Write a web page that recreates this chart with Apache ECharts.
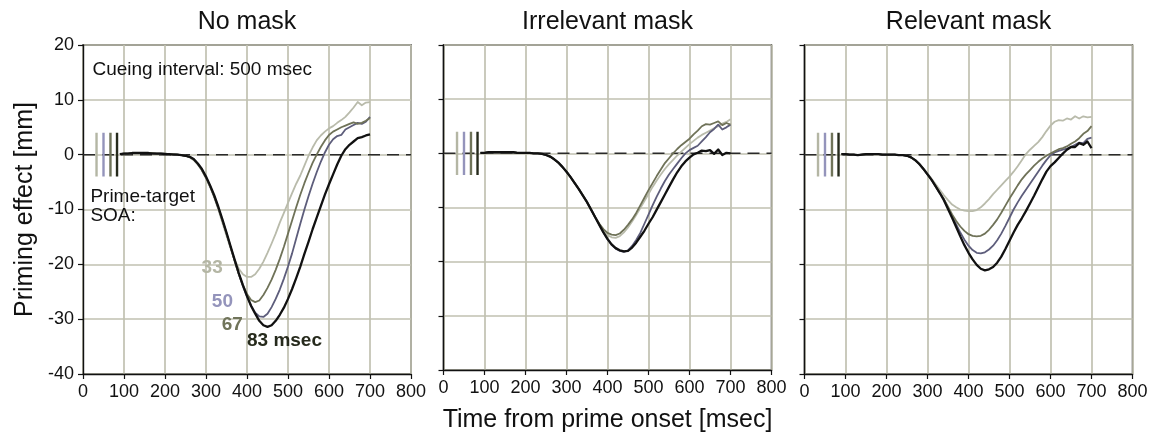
<!DOCTYPE html>
<html>
<head>
<meta charset="utf-8">
<script src="https://cdn.jsdelivr.net/npm/echarts@6/dist/echarts.min.js"></script>
<style>
  html, body { margin: 0; padding: 0; background: #ffffff; }
  #chart { width: 1153px; height: 438px; }
</style>
</head>
<body>
<div id="chart"></div>
<script>
// Time axis of every trace (msec from prime onset)
const timeMs = [
  90, 100, 110, 120, 130, 140, 150, 160, 170, 180, 190, 200, 210, 220, 230, 240, 250,
  260, 270, 280, 290, 300, 310, 320, 330, 340, 350, 360, 370, 380, 390, 400,
  410, 420, 430, 440, 450, 460, 470, 480, 490, 500, 510, 520, 530, 540, 550,
  560, 570, 580, 590, 600, 610, 620, 630, 640, 650, 660, 670, 680, 690, 700
];

// Prime-target SOAs (msec) and their labels
const soaMs = [33, 50, 67, 83];
const soaLabels = ['33', '50', '67', '83 msec'];
const panelTitles = ['No mask', 'Irrelevant mask', 'Relevant mask'];

// Priming effect (mm), No mask
const noMask33 = [
  0.1, 0.2, 0.2, 0.3, 0.3, 0.3, 0.3, 0.3, 0.3, 0.2, 0.2, 0.2, 0.1, 0.1, 0.0, -0.1, -0.2,
  -0.5, -1.0, -1.8, -2.9, -4.3, -5.9, -7.8, -10.0, -12.4, -14.8, -17.1, -19.2, -20.8, -21.8, -22.3,
  -22.3, -21.8, -20.8, -19.5, -17.9, -16.2, -14.4, -12.4, -10.6, -8.8, -7.0, -5.3, -3.8, -2.0, -0.2,
  1.3, 2.6, 3.5, 4.2, 4.8, 5.2, 5.8, 6.3, 6.9, 7.7, 8.6, 9.6, 9.0, 9.5, 9.6
];
const noMask50 = [
  0.1, 0.2, 0.2, 0.3, 0.3, 0.3, 0.3, 0.3, 0.3, 0.2, 0.2, 0.2, 0.1, 0.1, 0.0, -0.1, -0.2,
  -0.4, -0.9, -1.7, -2.8, -4.2, -5.8, -7.6, -9.7, -12.0, -14.4, -16.9, -19.4, -21.8, -24.0, -25.9,
  -27.5, -28.8, -29.5, -29.6, -29.0, -27.8, -26.3, -24.6, -22.6, -20.4, -18.0, -15.3, -12.6, -10.0, -7.6,
  -5.3, -3.2, -1.3, 0.4, 1.8, 2.8, 3.4, 3.6, 4.6, 5.0, 5.4, 5.8, 5.6, 6.0, 6.9
];
const noMask67 = [
  0.1, 0.2, 0.2, 0.3, 0.3, 0.3, 0.3, 0.3, 0.3, 0.2, 0.2, 0.2, 0.1, 0.1, 0.0, -0.1, -0.2,
  -0.4, -0.9, -1.7, -2.8, -4.2, -5.8, -7.6, -9.7, -12.0, -14.4, -16.9, -19.4, -21.8, -23.8, -25.4,
  -26.5, -26.9, -26.6, -25.6, -24.3, -22.8, -21.0, -19.0, -16.8, -14.4, -12.0, -9.6, -7.3, -5.2, -3.3,
  -1.5, 0.0, 1.4, 2.6, 3.6, 4.2, 4.6, 5.0, 5.3, 5.6, 5.9, 5.6, 5.8, 6.2, 6.7
];
const noMask83 = [
  0.1, 0.2, 0.2, 0.3, 0.3, 0.3, 0.3, 0.3, 0.2, 0.2, 0.2, 0.1, 0.1, 0.0, 0.0, -0.1, -0.2,
  -0.4, -0.8, -1.6, -2.6, -4.0, -5.6, -7.4, -9.5, -11.8, -14.2, -16.7, -19.2, -21.6, -23.8, -25.8,
  -27.6, -29.0, -30.3, -31.1, -31.4, -31.1, -30.3, -29.2, -27.9, -26.3, -24.5, -22.5, -20.4, -18.1, -15.9,
  -13.6, -11.5, -9.4, -7.3, -5.4, -3.6, -1.8, -0.2, 1.0, 1.8, 2.4, 3.0, 3.2, 3.5, 3.7
];

// Priming effect (mm), Irrelevant mask
const irrelevant33 = [
  0.1, 0.1, 0.2, 0.2, 0.2, 0.2, 0.2, 0.2, 0.2, 0.1, 0.1, 0.1, 0.1, 0.0, 0.0, -0.1, -0.3,
  -0.6, -1.1, -1.7, -2.5, -3.4, -4.4, -5.5, -6.6, -7.8, -9.0, -10.4, -11.8, -13.0, -14.3, -15.1,
  -15.5, -15.6, -15.3, -14.6, -13.7, -12.6, -11.4, -10.1, -8.8, -7.5, -6.2, -5.0, -3.9, -2.9, -2.0,
  -1.2, -0.4, 0.3, 1.0, 1.7, 2.3, 2.9, 3.4, 3.8, 4.2, 4.6, 5.0, 5.5, 5.8, 6.3
];
const irrelevant50 = [
  0.1, 0.1, 0.2, 0.2, 0.2, 0.2, 0.2, 0.2, 0.2, 0.1, 0.1, 0.1, 0.1, 0.0, 0.0, -0.1, -0.3,
  -0.6, -1.1, -1.7, -2.5, -3.4, -4.4, -5.5, -6.6, -7.8, -9.0, -10.4, -11.8, -13.2, -14.6, -15.9,
  -16.9, -17.6, -18.0, -18.2, -17.9, -17.1, -16.0, -14.7, -13.0, -11.3, -9.6, -8.0, -6.5, -5.1, -3.9,
  -2.9, -1.9, -0.9, 0.0, 0.6, 1.0, 1.4, 2.2, 3.0, 3.9, 4.5, 5.3, 4.4, 4.8, 5.3
];
const irrelevant67 = [
  0.1, 0.1, 0.2, 0.2, 0.2, 0.2, 0.2, 0.2, 0.2, 0.1, 0.1, 0.1, 0.1, 0.0, 0.0, -0.1, -0.3,
  -0.6, -1.1, -1.7, -2.5, -3.4, -4.4, -5.5, -6.6, -7.8, -9.0, -10.4, -11.8, -13.0, -14.0, -14.7,
  -15.0, -15.1, -14.8, -14.1, -13.2, -12.2, -11.0, -9.6, -8.2, -6.8, -5.5, -4.2, -3.0, -1.8, -0.9,
  0.0, 0.8, 1.5, 2.1, 2.7, 3.5, 4.2, 5.0, 5.4, 5.3, 5.6, 5.9, 5.2, 5.6, 5.3
];
const irrelevant83 = [
  0.1, 0.1, 0.2, 0.2, 0.2, 0.2, 0.2, 0.2, 0.2, 0.1, 0.1, 0.1, 0.1, 0.0, 0.0, -0.1, -0.3,
  -0.6, -1.1, -1.7, -2.5, -3.4, -4.4, -5.5, -6.6, -7.8, -9.0, -10.4, -11.8, -13.2, -14.6, -15.8,
  -16.8, -17.5, -17.9, -18.1, -18.0, -17.4, -16.5, -15.4, -14.3, -13.0, -11.8, -10.4, -9.0, -7.6, -6.2,
  -4.8, -3.5, -2.4, -1.5, -0.8, -0.2, 0.1, 0.5, 0.4, 0.6, -0.1, 0.7, -0.3, 0.1, 0.0
];

// Priming effect (mm), Relevant mask
const relevant33 = [
  0.1, 0.1, 0.0, 0.0, -0.1, 0.0, 0.1, 0.1, 0.1, 0.1, 0.0, 0.0, 0.0, 0.0, -0.1, -0.1, -0.2,
  -0.5, -1.0, -1.7, -2.5, -3.4, -4.4, -5.4, -6.4, -7.4, -8.3, -9.1, -9.6, -10.0, -10.2, -10.3,
  -10.3, -10.1, -9.6, -8.9, -8.1, -7.2, -6.4, -5.6, -4.8, -4.0, -3.1, -2.1, -1.0, 0.1, 0.9,
  1.6, 2.3, 3.2, 4.3, 5.3, 6.0, 6.3, 6.2, 6.6, 6.4, 7.0, 6.6, 7.0, 6.8, 6.9
];
const relevant50 = [
  0.1, 0.1, 0.0, 0.0, -0.1, 0.0, 0.1, 0.1, 0.1, 0.1, 0.0, 0.0, 0.0, 0.0, -0.1, -0.1, -0.2,
  -0.5, -1.0, -1.7, -2.6, -3.6, -4.6, -5.8, -7.0, -8.2, -9.7, -11.2, -12.7, -14.2, -15.5, -16.6,
  -17.4, -17.9, -18.0, -17.8, -17.3, -16.6, -15.6, -14.4, -13.0, -11.5, -10.0, -8.7, -7.5, -6.4, -5.3,
  -4.2, -3.1, -2.0, -1.0, -0.1, 0.4, 0.7, 0.9, 1.1, 1.4, 1.8, 2.2, 2.1, 2.9, 3.1
];
const relevant67 = [
  0.1, 0.1, 0.0, 0.0, -0.1, 0.0, 0.1, 0.1, 0.1, 0.1, 0.0, 0.0, 0.0, 0.0, -0.1, -0.1, -0.2,
  -0.5, -1.0, -1.7, -2.6, -3.6, -4.6, -5.8, -7.0, -8.1, -9.5, -10.9, -12.1, -13.1, -13.9, -14.5,
  -14.8, -14.9, -14.8, -14.4, -13.7, -12.8, -11.8, -10.6, -9.3, -8.0, -6.8, -5.6, -4.5, -3.6, -2.8,
  -2.0, -1.3, -0.7, -0.2, 0.2, 0.6, 1.0, 1.2, 1.5, 2.0, 2.4, 3.0, 3.8, 4.3, 5.2
];
const relevant83 = [
  0.1, 0.1, 0.0, 0.0, -0.1, 0.0, 0.1, 0.1, 0.1, 0.1, 0.0, 0.0, 0.0, 0.0, -0.1, -0.1, -0.2,
  -0.5, -1.0, -1.7, -2.6, -3.6, -4.6, -5.8, -7.0, -8.3, -9.9, -11.5, -13.2, -14.9, -16.5, -17.9,
  -19.1, -20.1, -20.8, -21.1, -20.9, -20.5, -19.7, -18.6, -17.2, -15.7, -14.2, -12.8, -11.6, -10.3, -8.9,
  -7.5, -6.0, -4.5, -3.1, -2.1, -1.4, -0.6, 0.2, 0.9, 1.4, 1.4, 2.1, 1.8, 2.4, 1.2
];

const panelData = [
  [noMask33, noMask50, noMask67, noMask83],
  [irrelevant33, irrelevant50, irrelevant67, irrelevant83],
  [relevant33, relevant50, relevant67, relevant83]
];

// Styling
const FONT = '"Liberation Sans", Arial, Helvetica, sans-serif';
const INK = '#111111';
const GRID_COLOR = '#c1c1b1';
const lineColors = ['#b9bbab', '#5d5d7b', '#6f7258', '#111111'];
const lineWidths = [1.8, 1.8, 1.8, 2.3];
const markColors = ['#b4b6a4', '#9494bb', '#70745a', '#262a1c'];

// Panel layout
const PANEL_TOP = 45;
const PANEL_W = 328;
const PANEL_H = 329;
const panelLeft = [83, 443.5, 804.5];

const grids = panelLeft.map(left => ({
  left: left, top: PANEL_TOP, width: PANEL_W, height: PANEL_H,
  show: true, borderColor: INK, borderWidth: 1.4, backgroundColor: 'transparent'
}));

const xAxes = panelLeft.map((_, p) => ({
  gridIndex: p, type: 'value', min: 0, max: 800, interval: 100,
  axisLine: { show: true, onZero: false, lineStyle: { color: INK, width: 1.4 } },
  axisTick: { show: true, length: 5, lineStyle: { color: INK, width: 1.2 } },
  axisLabel: { fontSize: 18, color: INK, margin: 9, fontFamily: FONT },
  splitLine: { show: true, lineStyle: { color: GRID_COLOR, width: 1.7 } },
  name: p === 1 ? 'Time from prime onset [msec]' : '',
  nameLocation: 'middle', nameGap: 38,
  nameTextStyle: { fontSize: 25, color: INK, fontFamily: FONT }
}));

const yAxes = panelLeft.map((_, p) => ({
  gridIndex: p, type: 'value', min: -40, max: 20, interval: 10,
  axisLine: { show: true, onZero: false, lineStyle: { color: INK, width: 1.4 } },
  axisTick: { show: true, length: 5, lineStyle: { color: INK, width: 1.2 } },
  axisLabel: { show: p === 0, fontSize: 18, color: INK, margin: 9, fontFamily: FONT },
  splitLine: { show: true, lineStyle: { color: GRID_COLOR, width: 1.7 } },
  name: p === 0 ? 'Priming effect [mm]' : '',
  nameLocation: 'middle', nameGap: 45,
  nameTextStyle: { fontSize: 25, color: INK, fontFamily: FONT }
}));

const series = [];
panelData.forEach((traces, p) => {
  // dashed zero reference
  series.push({
    type: 'line', xAxisIndex: p, yAxisIndex: p, silent: true, z: 2,
    data: [[0, 0], [800, 0]], symbol: 'none',
    lineStyle: { color: '#2a2a2a', width: 1.5, type: [12, 7] }
  });
  // SOA markers
  soaMs.forEach((soa, k) => {
    series.push({
      type: 'line', xAxisIndex: p, yAxisIndex: p, silent: true, z: 3,
      data: [[soa, -4], [soa, 4]], symbol: 'none',
      lineStyle: { color: markColors[k], width: 2.4, cap: 'butt' }
    });
  });
  // traces
  traces.forEach((vals, k) => {
    series.push({
      type: 'line', xAxisIndex: p, yAxisIndex: p, z: 4 + k,
      name: soaLabels[k], symbol: 'none', smooth: false,
      data: timeMs.map((t, i) => [t, vals[i]]),
      lineStyle: { color: lineColors[k], width: lineWidths[k], join: 'round' }
    });
  });
});

// Text notes in the first panel, placed in data coordinates
const noteStyle = { color: INK, fontSize: 19, fontFamily: FONT };
series.push({
  type: 'scatter', xAxisIndex: 0, yAxisIndex: 0, symbolSize: 0, silent: true, z: 10,
  itemStyle: { opacity: 1 },
  data: [
    { value: [23, 15.5], label: { formatter: 'Cueing interval: 500 msec' } },
    { value: [18, -9.4], label: { formatter: 'Prime-target\nSOA:', lineHeight: 19 } }
  ],
  label: Object.assign({ show: true, position: 'right', distance: 0 }, noteStyle)
});

const soaLabelPos = [[315, -20.7], [340, -26.9], [364, -31.1], [400, -34.0]];
series.push({
  type: 'scatter', xAxisIndex: 0, yAxisIndex: 0, symbolSize: 0, silent: true, z: 10,
  itemStyle: { opacity: 1 },
  data: soaLabels.map((txt, k) => ({
    value: soaLabelPos[k],
    label: {
      formatter: txt, color: markColors[k],
      position: k === 3 ? 'right' : 'inside', distance: 0
    }
  })),
  label: { show: true, fontSize: 19, fontWeight: 'bold', fontFamily: FONT }
});

const titles = panelTitles.map((txt, p) => ({
  type: 'text',
  x: panelLeft[p] + PANEL_W / 2, y: 22,
  style: {
    text: txt, align: 'center', verticalAlign: 'middle',
    fill: INK, font: '25px ' + FONT
  }
}));

const chart = echarts.init(document.getElementById('chart'), null, { renderer: 'canvas' });
chart.setOption({
  animation: false,
  backgroundColor: '#ffffff',
  textStyle: { fontFamily: FONT },
  grid: grids,
  xAxis: xAxes,
  yAxis: yAxes,
  series: series,
  graphic: titles
});
</script>
</body>
</html>
